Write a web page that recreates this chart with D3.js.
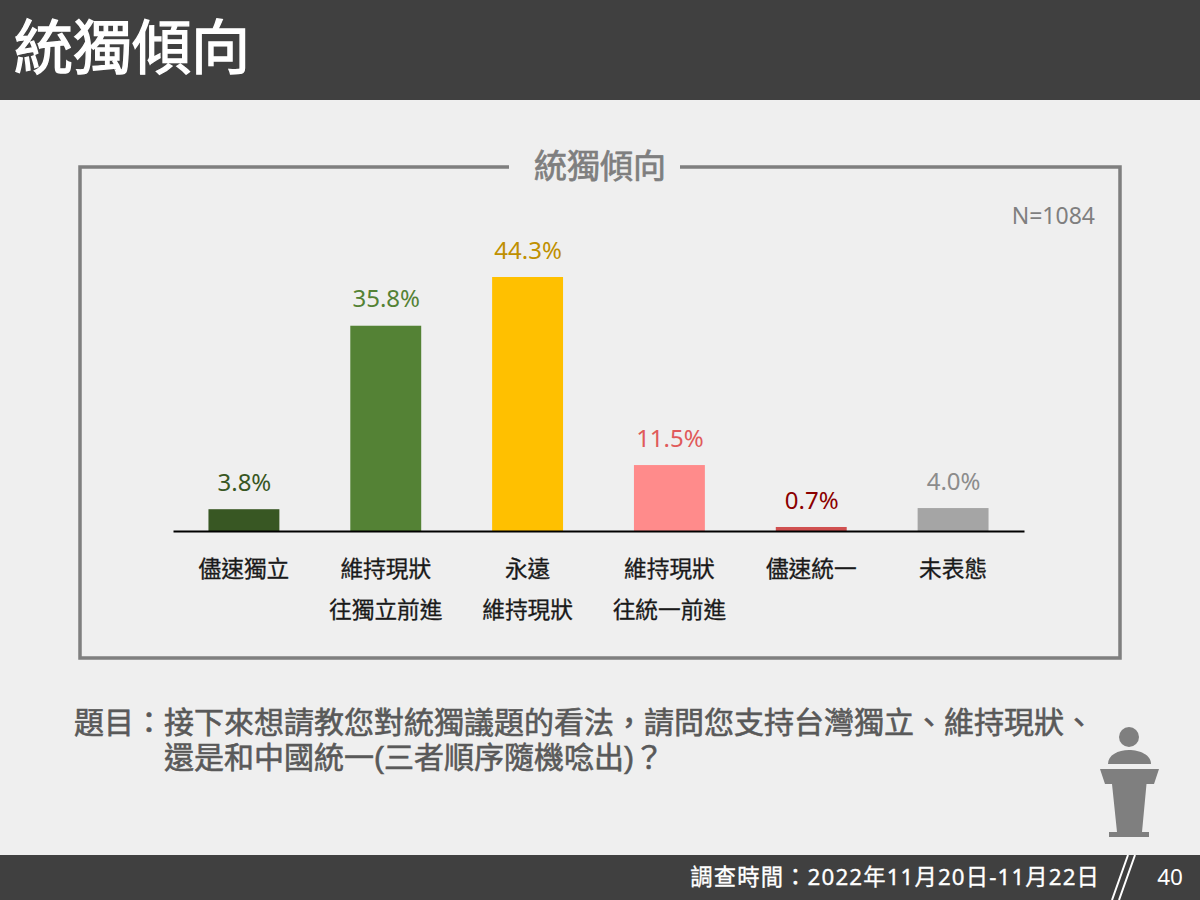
<!DOCTYPE html>
<html lang="zh-Hant">
<head>
<meta charset="utf-8">
<script src="https://cdn.jsdelivr.net/npm/d3@7"></script>
<style>
html, body { margin: 0; padding: 0; background: #efefef; }
svg { display: block; }
text { font-family: "Noto Sans", "Noto Sans CJK TC", sans-serif; }
.question { font-family: "Liberation Sans", "Noto Sans CJK TC", sans-serif; }
</style>
</head>
<body>
<svg width="1200" height="900"></svg>
<script>
var categories = ['儘速獨立', '維持現狀|往獨立前進', '永遠|維持現狀', '維持現狀|往統一前進', '儘速統一', '未表態'];
var values = [3.8, 35.8, 44.3, 11.5, 0.7, 4.0];
var barColors = ['#385723', '#548235', '#ffc000', '#ff8b8b', '#d05050', '#a5a5a5'];
var labelColors = ['#385723', '#548235', '#bf9000', '#e05a5a', '#8b0000', '#8c8c8c'];
var questionLines = ['接下來想請教您對統獨議題的看法，請問您支持台灣獨立、維持現狀、', '還是和中國統一(三者順序隨機唸出)？'];

var svg = d3.select('svg');

// the slide's heavier text is regular weight with a thin outline
function outlined(sel, color, w) {
    return sel.attr('fill', color).attr('stroke', color).attr('stroke-width', w);
}

// header and footer bands
svg.append('rect').attr('width', 1200).attr('height', 100).attr('fill', '#404040');
svg.append('rect').attr('y', 855).attr('width', 1200).attr('height', 45).attr('fill', '#404040');
outlined(svg.append('text').attr('x', 14).attr('y', 69)
    .attr('font-size', 59).text('統獨傾向'), '#fff', 1.3);

// frame with a gap for its title
svg.append('path')
    .attr('d', 'M509,167H80V658H1120V167H680')
    .attr('fill', 'none').attr('stroke', '#7f7f7f').attr('stroke-width', 3.5);
outlined(svg.append('text').attr('x', 600).attr('y', 178).attr('text-anchor', 'middle')
    .attr('font-size', 33).text('統獨傾向'), '#7f7f7f', 0.7);
svg.append('text').attr('x', 1095).attr('y', 224).attr('text-anchor', 'end')
    .attr('font-size', 23).attr('fill', '#7f7f7f').text('N=1084');

var x = d3.scaleBand().domain(categories).range([173, 1024]).paddingInner(0.5).paddingOuter(0.25);
var y = d3.scaleLinear().domain([0, 44.3]).range([531, 277]);

svg.selectAll('.bar')
    .data(values)
    .enter().append('rect')
    .attr('class', 'bar')
    .attr('x', function(d, i) { return x(categories[i]); })
    .attr('y', function(d) { return y(d); })
    .attr('width', x.bandwidth())
    .attr('height', function(d) { return y(0) - y(d); })
    .attr('fill', function(d, i) { return barColors[i]; });

svg.selectAll('.value')
    .data(values)
    .enter().append('text')
    .attr('class', 'value')
    .attr('x', function(d, i) { return x(categories[i]) + x.bandwidth() / 2 + 0.5; })
    .attr('y', function(d) { return y(d) - 18.3; })
    .attr('text-anchor', 'middle')
    .attr('font-size', 24)
    .attr('fill', function(d, i) { return labelColors[i]; })
    .text(function(d) { return d.toFixed(1) + '%'; });

// axis, category labels split into two rows
var axis = svg.append('g')
    .attr('transform', 'translate(0,531)')
    .call(d3.axisBottom(x).tickSize(0).tickFormat(''));
axis.select('.domain').attr('stroke', '#000').attr('stroke-width', 2);

categories.forEach(function(c) {
    c.split('|').forEach(function(line, j) {
        outlined(svg.append('text')
            .attr('x', x(c) + x.bandwidth() / 2)
            .attr('y', 577 + j * 41)
            .attr('text-anchor', 'middle')
            .attr('font-size', 22.7)
            .text(line), '#1a1a1a', 0.3);
    });
});

// question
outlined(svg.append('text').attr('class', 'question').attr('x', 74).attr('y', 733)
    .attr('font-size', 30).text('題目：'), '#595959', 0.6);
questionLines.forEach(function(line, i) {
    outlined(svg.append('text').attr('class', 'question').attr('x', 164).attr('y', 733 + i * 35)
        .attr('font-size', 30).text(line), '#595959', 0.6);
});

// podium icon
var icon = svg.append('g').attr('fill', '#7f7f7f');
icon.append('circle').attr('cx', 1129).attr('cy', 737).attr('r', 10);
icon.append('path').attr('d', 'M1108,764C1108,755 1118,750 1129,750C1140,750 1151,755 1151,764Z');
icon.append('path').attr('d', 'M1100,769H1159L1154,784H1146.5L1142,832H1149V837H1109V832H1117L1112,784H1105Z');

// footer
outlined(svg.append('text').attr('x', 1100).attr('y', 885).attr('text-anchor', 'end')
    .attr('font-size', 22.3).attr('letter-spacing', 1.15).text('調查時間：2022年11月20日-11月22日'), '#fff', 0.35);
svg.append('path').attr('d', 'M1128,855L1112,900M1135,855L1119,900')
    .attr('stroke', '#fff').attr('stroke-width', 2).attr('fill', 'none');
svg.append('text').attr('x', 1170).attr('y', 885).attr('text-anchor', 'middle')
    .attr('font-size', 22.5).attr('fill', '#fff').text('40');
</script>
</body>
</html>
